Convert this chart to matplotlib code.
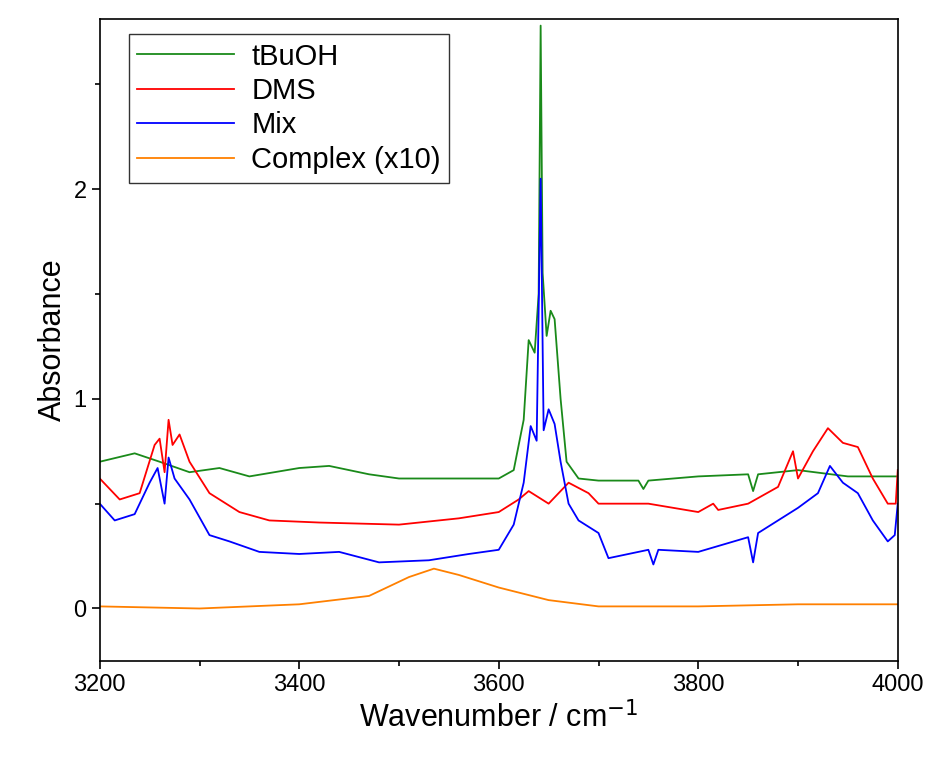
import matplotlib
matplotlib.use("Agg")
import matplotlib.pyplot as plt

plt.rcParams['font.family'] = ['Liberation Sans', 'DejaVu Sans']

# tBuOH
wn_t = [3200, 3235, 3260, 3290, 3320, 3350, 3400, 3430, 3470, 3500, 3560, 3600, 3615, 3625,
        3630, 3636, 3640, 3642, 3644, 3648, 3652, 3656, 3662, 3668, 3680, 3700, 3740, 3745,
        3750, 3800, 3850, 3855, 3860, 3900, 3950, 4000]
ab_t = [0.70, 0.74, 0.70, 0.65, 0.67, 0.63, 0.67, 0.68, 0.64, 0.62, 0.62, 0.62, 0.66, 0.90,
        1.28, 1.22, 1.50, 2.78, 1.60, 1.30, 1.42, 1.38, 1.00, 0.70, 0.62, 0.61, 0.61, 0.57,
        0.61, 0.63, 0.64, 0.56, 0.64, 0.66, 0.63, 0.63]

# DMS
wn_d = [3200, 3220, 3240, 3255, 3260, 3265, 3269, 3273, 3280, 3290, 3310, 3340, 3370, 3420,
        3500, 3560, 3600, 3620, 3630, 3640, 3650, 3660, 3670, 3690, 3700, 3750, 3800, 3815,
        3820, 3850, 3880, 3895, 3900, 3915, 3930, 3945, 3960, 3975, 3990, 3998, 4000]
ab_d = [0.62, 0.52, 0.55, 0.78, 0.81, 0.65, 0.90, 0.78, 0.83, 0.70, 0.55, 0.46, 0.42, 0.41,
        0.40, 0.43, 0.46, 0.52, 0.56, 0.53, 0.50, 0.55, 0.60, 0.55, 0.50, 0.50, 0.46, 0.50,
        0.47, 0.50, 0.58, 0.75, 0.62, 0.75, 0.86, 0.79, 0.77, 0.62, 0.50, 0.50, 0.66]

# Mix
wn_m = [3200, 3215, 3235, 3250, 3258, 3265, 3269, 3275, 3290, 3310, 3330, 3360, 3400, 3440,
        3480, 3530, 3570, 3600, 3615, 3625, 3632, 3638, 3642, 3645, 3650, 3656, 3662, 3670,
        3680, 3700, 3710, 3750, 3755, 3760, 3800, 3850, 3855, 3860, 3880, 3900, 3920, 3932,
        3945, 3960, 3975, 3990, 3997, 4000]
ab_m = [0.50, 0.42, 0.45, 0.60, 0.67, 0.50, 0.72, 0.62, 0.52, 0.35, 0.32, 0.27, 0.26, 0.27,
        0.22, 0.23, 0.26, 0.28, 0.40, 0.60, 0.87, 0.80, 2.05, 0.85, 0.95, 0.88, 0.70, 0.50,
        0.42, 0.36, 0.24, 0.28, 0.21, 0.28, 0.27, 0.34, 0.22, 0.36, 0.42, 0.48, 0.55, 0.68,
        0.60, 0.55, 0.42, 0.32, 0.35, 0.50]

# Complex (x10)
wn_c = [3200, 3300, 3400, 3470, 3510, 3535, 3560, 3600, 3650, 3700, 3800, 3900, 4000]
ab_c = [0.01, 0.00, 0.02, 0.06, 0.15, 0.19, 0.16, 0.10, 0.04, 0.01, 0.01, 0.02, 0.02]

fig = plt.figure(figsize=(9.5, 7.73), dpi=100)
ax = fig.add_axes([0.105, 0.145, 0.84, 0.83])
ax.plot(wn_t, ab_t, color='#1a8a1a', lw=1.3, label='tBuOH')
ax.plot(wn_d, ab_d, color='#ff0000', lw=1.3, label='DMS')
ax.plot(wn_m, ab_m, color='#0000ff', lw=1.3, label='Mix')
ax.plot(wn_c, ab_c, color='#ff8000', lw=1.3, label='Complex (x10)')

ax.set_xlim(3200, 4000)
ax.set_ylim(-0.25, 2.81)
ax.set_xticks([3200, 3400, 3600, 3800, 4000])
ax.set_xticks([3300, 3500, 3700, 3900], minor=True)
ax.set_yticks([0, 1, 2])
ax.set_yticks([0.5, 1.5, 2.5], minor=True)
ax.tick_params(labelsize=17, length=6, width=1.2)
ax.tick_params(which='minor', length=3.5, width=1.2)
for s in ax.spines.values():
    s.set_linewidth(1.2)
ax.set_xlabel('Wavenumber / cm$^{-1}$', fontsize=22)
ax.set_ylabel('Absorbance', fontsize=22)
leg = ax.legend(loc='upper left', fontsize=21, fancybox=False, edgecolor='black',
                handlelength=3.3, handletextpad=0.6, borderaxespad=0.5,
                borderpad=0.3, labelspacing=0.22, bbox_to_anchor=(0.018, 1.0))
leg.get_frame().set_linewidth(1.0)
fig.savefig('out.png', dpi=100)
